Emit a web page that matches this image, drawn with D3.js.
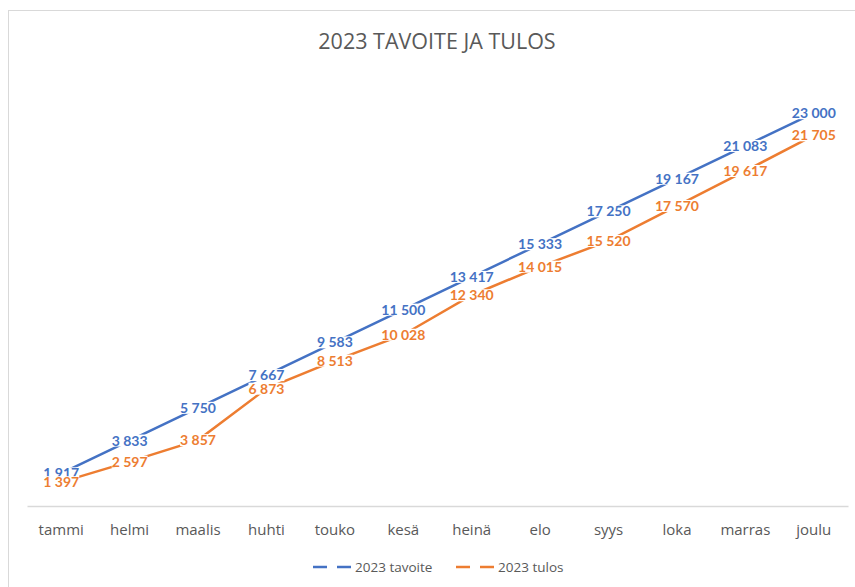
<!DOCTYPE html>
<html>
<head>
  <title>2023 tavoite ja tulos</title>
<script src="https://d3js.org/d3.v7.min.js"></script>
<style>
  body { margin: 0; background: #fff; }
  text { font-family: Lato, "Open Sans", sans-serif; }
</style>
</head>
<body>
<div id="chart"></div>
<script>
  // data
  var months = ["tammi", "helmi", "maalis", "huhti", "touko", "kesä", "heinä", "elo", "syys", "loka", "marras", "joulu"];
  var tavoite = [1917, 3833, 5750, 7667, 9583, 11500, 13417, 15333, 17250, 19167, 21083, 23000];
  var tulos = [1397, 2597, 3857, 6873, 8513, 10028, 12340, 14015, 15520, 17570, 19617, 21705];
  var seriesNames = ["2023 tavoite", "2023 tulos"];
  var colors = ["#4472C4", "#ED7D31"];

  var W = 855, H = 587;
  var svg = d3.select("#chart").append("svg")
    .attr("width", W).attr("height", H);

  // chart frame
  svg.append("rect")
    .attr("x", 8.5).attr("y", 10.5)
    .attr("width", W).attr("height", H)
    .attr("fill", "#fff").attr("stroke", "#d9d9d9");

  svg.append("text")
    .attr("x", 437).attr("y", 49)
    .attr("text-anchor", "middle")
    .attr("fill", "#595959")
    .style("font-size", "21.5px")
    .style("font-family", "'Open Sans', sans-serif")
    .text("2023 TAVOITE JA TULOS");

  var x = d3.scaleBand().domain(months).range([27, 848]);
  var y = d3.scaleLinear().domain([0, 25000]).range([506, 79]);

  var xAxis = svg.append("g")
    .attr("transform", "translate(0,506)")
    .call(d3.axisBottom(x).tickSize(0).tickPadding(18));
  xAxis.select(".domain").attr("stroke", "#d9d9d9").attr("stroke-width", 1.5);
  xAxis.selectAll("text")
    .attr("fill", "#595959")
    .style("font-size", "15px")
    .style("font-family", "'Open Sans', sans-serif");

  var series = [tavoite, tulos];
  var line = d3.line()
    .x(function(d, i) { return x(months[i]) + x.bandwidth() / 2; })
    .y(function(d) { return y(d); });

  series.forEach(function(vals, s) {
    svg.append("path")
      .datum(vals)
      .attr("fill", "none")
      .attr("stroke", colors[s])
      .attr("stroke-width", 2.5)
      .attr("d", line);
  });

  function fmt(v) {
    return d3.format(",")(v).replace(/,/g, " ");
  }

  series.forEach(function(vals, s) {
    var g = svg.append("g");
    vals.forEach(function(v, i) {
      var cx = x(months[i]) + x.bandwidth() / 2, cy = y(v);
      var bg = g.append("rect").attr("fill", "#fff");
      var t = g.append("text")
        .attr("x", cx).attr("y", cy)
        .attr("dy", "0.36em")
        .attr("text-anchor", "middle")
        .attr("fill", colors[s])
        .style("font-size", "14px")
        .style("font-weight", "bold")
        .text(fmt(v));
      var b = t.node().getBBox();
      bg.attr("x", b.x).attr("y", b.y + 3)
        .attr("width", b.width).attr("height", b.height - 5);
    });
  });

  // legend
  var legendX = [313, 456];
  seriesNames.forEach(function(name, s) {
    var lg = svg.append("g").attr("transform", "translate(" + legendX[s] + ",567)");
    lg.append("line").attr("x1", 0).attr("x2", 14)
      .attr("stroke", colors[s]).attr("stroke-width", 2.5);
    lg.append("line").attr("x1", 24).attr("x2", 38)
      .attr("stroke", colors[s]).attr("stroke-width", 2.5);
    lg.append("text")
      .attr("x", 42).attr("dy", "0.35em")
      .attr("fill", "#595959")
      .style("font-size", "13.5px")
      .style("font-family", "'Open Sans', sans-serif")
      .text(name);
  });
</script>
</body>
</html>
